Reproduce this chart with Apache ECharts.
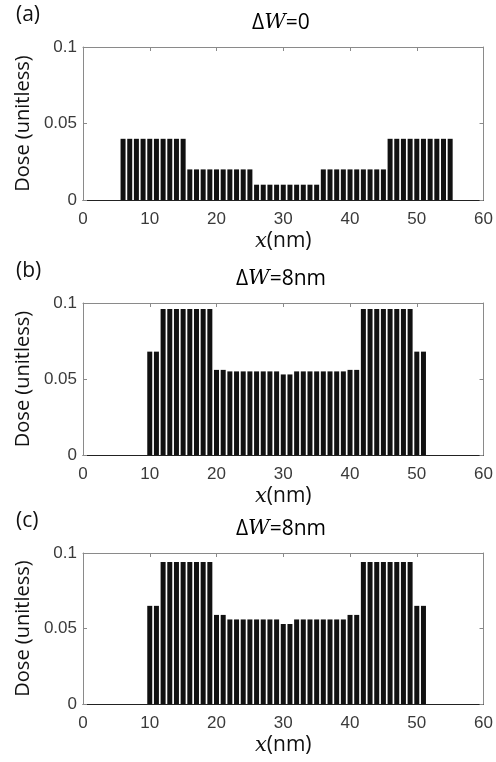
<!DOCTYPE html>
<html>
<head>
<meta charset="utf-8">
<script src="https://cdn.jsdelivr.net/npm/echarts@6/dist/echarts.min.js"></script>
<style>
html, body { margin: 0; background: #fff; }
#chart { width: 496px; height: 762px; }
</style>
</head>
<body>
<div id="chart"></div>
<script>
// x positions (nm) of the exposure shots and their doses
const xA = [6, 7, 8, 9, 10, 11, 12, 13, 14, 15, 16, 17, 18, 19, 20, 21, 22, 23, 24, 25,
  26, 27, 28, 29, 30, 31, 32, 33, 34, 35, 36, 37, 38, 39, 40, 41, 42, 43, 44, 45,
  46, 47, 48, 49, 50, 51, 52, 53, 54, 55];
const doseA = [0.04, 0.04, 0.04, 0.04, 0.04, 0.04, 0.04, 0.04, 0.04, 0.04,
  0.02, 0.02, 0.02, 0.02, 0.02, 0.02, 0.02, 0.02, 0.02, 0.02,
  0.01, 0.01, 0.01, 0.01, 0.01, 0.01, 0.01, 0.01, 0.01, 0.01,
  0.02, 0.02, 0.02, 0.02, 0.02, 0.02, 0.02, 0.02, 0.02, 0.02,
  0.04, 0.04, 0.04, 0.04, 0.04, 0.04, 0.04, 0.04, 0.04, 0.04];

const xB = [10, 11, 12, 13, 14, 15, 16, 17, 18, 19, 20, 21, 22, 23, 24, 25, 26, 27, 28, 29,
  30, 31, 32, 33, 34, 35, 36, 37, 38, 39, 40, 41, 42, 43, 44, 45, 46, 47, 48, 49, 50, 51];
const doseB = [0.068, 0.068,
  0.096, 0.096, 0.096, 0.096, 0.096, 0.096, 0.096, 0.096,
  0.056, 0.056,
  0.055, 0.055, 0.055, 0.055, 0.055, 0.055, 0.055, 0.055,
  0.053, 0.053,
  0.055, 0.055, 0.055, 0.055, 0.055, 0.055, 0.055, 0.055,
  0.056, 0.056,
  0.096, 0.096, 0.096, 0.096, 0.096, 0.096, 0.096, 0.096,
  0.068, 0.068];

const xC = xB;
const doseC = [0.065, 0.065,
  0.094, 0.094, 0.094, 0.094, 0.094, 0.094, 0.094, 0.094,
  0.059, 0.059,
  0.056, 0.056, 0.056, 0.056, 0.056, 0.056, 0.056, 0.056,
  0.053, 0.053,
  0.056, 0.056, 0.056, 0.056, 0.056, 0.056, 0.056, 0.056,
  0.059, 0.059,
  0.094, 0.094, 0.094, 0.094, 0.094, 0.094, 0.094, 0.094,
  0.065, 0.065];

const xTicks = [0, 10, 20, 30, 40, 50, 60];
const yTicks = [0, 0.05, 0.1];
const panelLabels = ["(a)", "(b)", "(c)"];
const panelTitles = ["=0", "=8nm", "=8nm"];

const myChart = echarts.init(document.getElementById("chart"));

const boxColor = "#8a8a8a";
const tickFont = { fontSize: 17, color: "#3a3a3a", fontFamily: "Liberation Sans" };
const textRich = {
  n: { fontFamily: "Open Sans", fontSize: 21, color: "#111" },
  i: { fontFamily: "DejaVu Serif", fontStyle: "italic", fontSize: 21, color: "#111" }
};

const panels = [
  { top: 47, height: 153, xs: xA, ys: doseA },
  { top: 303, height: 152, xs: xB, ys: doseB },
  { top: 553, height: 151, xs: xC, ys: doseC }
];

const grid = [], xAxis = [], yAxis = [], series = [], graphic = [];

panels.forEach((p, i) => {
  grid.push({ left: 83, right: 10, top: p.top, height: p.height });

  const xBase = {
    type: "value", gridIndex: i, min: xTicks[0], max: xTicks[xTicks.length - 1], interval: 10,
    splitLine: { show: false },
    axisTick: { inside: true, length: 4, lineStyle: { color: boxColor } }
  };
  xAxis.push(Object.assign({}, xBase, {
    position: "bottom",
    axisLine: { onZero: false, lineStyle: { color: "#222", width: 1 } },
    axisLabel: Object.assign({ margin: 11 }, tickFont),
    name: "{i|x}{n|(nm)}",
    nameLocation: "middle",
    nameGap: 31,
    nameTextStyle: { rich: textRich }
  }));
  xAxis.push(Object.assign({}, xBase, {
    position: "top",
    axisLine: { onZero: false, lineStyle: { color: boxColor } },
    axisLabel: { show: false }
  }));

  const yBase = {
    type: "value", gridIndex: i, min: yTicks[0], max: yTicks[yTicks.length - 1], interval: 0.05,
    splitLine: { show: false },
    axisLine: { show: true, onZero: false, lineStyle: { color: boxColor } },
    axisTick: { show: true, inside: true, length: 4, lineStyle: { color: boxColor } }
  };
  yAxis.push(Object.assign({}, yBase, {
    position: "left",
    axisLabel: Object.assign({ margin: 6, formatter: v => String(+v.toFixed(2)) }, tickFont),
    name: "Dose (unitless)",
    nameLocation: "middle",
    nameRotate: 90,
    nameGap: 47,
    nameTextStyle: { fontFamily: "Open Sans", fontSize: 20, color: "#111" }
  }));
  yAxis.push(Object.assign({}, yBase, {
    position: "right",
    axisLabel: { show: false }
  }));

  series.push({
    type: "bar",
    xAxisIndex: 2 * i,
    yAxisIndex: 2 * i,
    data: p.xs.map((x, k) => [x, p.ys[k]]),
    barWidth: 5,
    itemStyle: { color: "#111" },
    silent: true,
    animation: false
  });

  graphic.push({
    type: "text", x: 16, y: p.top - 32,
    style: { text: panelLabels[i], font: "21px 'Open Sans'", fill: "#111", textVerticalAlign: "middle" }
  });
  graphic.push({
    type: "text", x: 281, y: p.top - 24,
    style: {
      text: "{n|Δ}{i|W}{n|" + panelTitles[i] + "}",
      textAlign: "center",
      textVerticalAlign: "middle",
      rich: textRich
    }
  });
});

myChart.setOption({ animation: false, grid, xAxis, yAxis, series, graphic });
</script>
</body>
</html>
